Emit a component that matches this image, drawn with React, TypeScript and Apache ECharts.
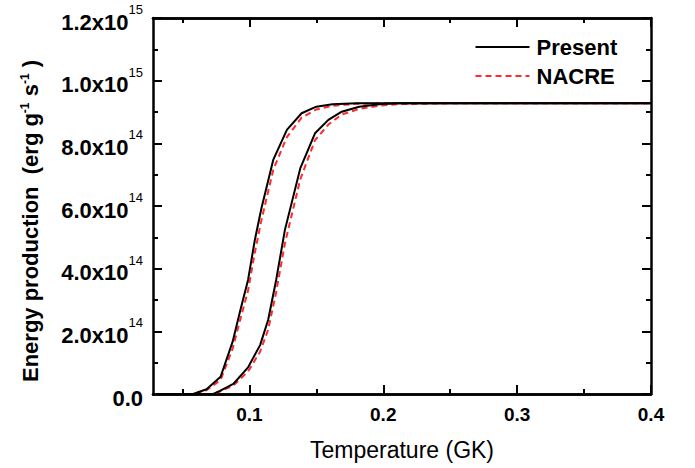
import React, { useEffect, useRef } from "react";
import * as echarts from "echarts";

const xMin = 0.028;
const xMax = 0.4;
const yMax = 1.2e15;
const xMajorTicks = [0.1, 0.2, 0.3, 0.4];
const xMinorTicks = [0.05, 0.15, 0.25, 0.35];
const xLabels = ["0.1", "0.2", "0.3", "0.4"];
const legendNames = ["Present", "NACRE"];

// Present (left curve)
const presentAT = [0.03, 0.058, 0.068, 0.0785, 0.0875, 0.093, 0.099, 0.104, 0.109, 0.1178, 0.128, 0.139, 0.15, 0.162, 0.18, 0.2, 0.25, 0.3, 0.35, 0.4];
const presentAV = [0, 0, 0.15e14, 0.55e14, 1.67e14, 2.63e14, 3.64e14, 4.9e14, 5.93e14, 7.47e14, 8.43e14, 8.96e14, 9.17e14, 9.25e14, 9.28e14, 9.28e14, 9.28e14, 9.28e14, 9.28e14, 9.28e14];
// Present (right curve)
const presentBT = [0.03, 0.073, 0.078, 0.088, 0.099, 0.108, 0.114, 0.12, 0.1265, 0.138, 0.149, 0.159, 0.169, 0.182, 0.197, 0.21, 0.25, 0.3, 0.35, 0.4];
const presentBV = [0, 0, 0.1e14, 0.32e14, 0.85e14, 1.56e14, 2.36e14, 3.64e14, 5.23e14, 7.2e14, 8.32e14, 8.75e14, 9.01e14, 9.17e14, 9.25e14, 9.28e14, 9.28e14, 9.28e14, 9.28e14, 9.28e14];
// NACRE (left curve)
const nacreAT = [0.03, 0.058, 0.068, 0.0785, 0.0875, 0.093, 0.099, 0.104, 0.109, 0.1178, 0.128, 0.139, 0.15, 0.162, 0.18, 0.2, 0.25, 0.3, 0.35, 0.4];
const nacreAV = [0, 0, 0.12e14, 0.45e14, 1.45e14, 2.35e14, 3.3e14, 4.5e14, 5.55e14, 7.15e14, 8.2e14, 8.82e14, 9.08e14, 9.2e14, 9.26e14, 9.28e14, 9.28e14, 9.28e14, 9.28e14, 9.28e14];
// NACRE (right curve)
const nacreBT = [0.03, 0.073, 0.078, 0.088, 0.099, 0.108, 0.114, 0.12, 0.1265, 0.138, 0.149, 0.159, 0.169, 0.182, 0.197, 0.21, 0.25, 0.3, 0.35, 0.4];
const nacreBV = [0, 0, 0.08e14, 0.27e14, 0.72e14, 1.35e14, 2.05e14, 3.25e14, 4.8e14, 6.85e14, 8.1e14, 8.6e14, 8.92e14, 9.1e14, 9.2e14, 9.25e14, 9.28e14, 9.28e14, 9.28e14, 9.28e14];

const zip = (t: number[], v: number[]) => t.map((x, i) => [x, v[i]]);

const FONT = "Liberation Sans, Arial, sans-serif";
const RED = "#ff2a2a";

function yFmt(v: number): string {
  if (v === 0) return "{b|0.0}";
  const e = Math.floor(Math.log10(v) + 1e-9);
  const m = (v / Math.pow(10, e)).toFixed(1);
  return `{b|${m}x10}{s|${e}}`;
}

export default function App() {
  const ref = useRef<HTMLDivElement>(null);
  useEffect(() => {
    if (!ref.current) return;
    const chart = echarts.init(ref.current, null, { renderer: "svg" });
    const axisLine = { show: true, onZero: false, lineStyle: { color: "#000", width: 2.5 } };
    const baseX = {
      type: "value" as const,
      min: xMin,
      max: xMax,
      splitLine: { show: false },
      axisLine,
    };
    const legendGraphic = (i: number, dashed: boolean, color: string) => ({
      type: "group",
      left: 473,
      top: 36 + i * 29,
      children: [
        {
          type: "line",
          shape: { x1: 0, y1: 11, x2: 54, y2: 11 },
          style: { stroke: color, lineWidth: 2, lineDash: dashed ? [6, 4] : null },
        },
        {
          type: "text",
          x: 61,
          y: 11,
          style: {
            text: legendNames[i],
            fill: "#000",
            font: `bold 22px ${FONT}`,
            textVerticalAlign: "middle",
            verticalAlign: "middle",
          },
        },
      ],
    });
    chart.setOption({
      animation: false,
      backgroundColor: "#fff",
      grid: { left: 153, right: 44, top: 18, bottom: 74, containLabel: false },
      graphic: [legendGraphic(0, false, "#000"), legendGraphic(1, true, RED)],
      xAxis: [
        {
          ...baseX,
          position: "bottom",
          name: "Temperature (GK)",
          nameLocation: "middle",
          nameGap: 44,
          nameTextStyle: { fontFamily: FONT, fontSize: 23, color: "#000" },
          axisTick: { show: true, inside: true, length: 9, lineStyle: { color: "#000", width: 2 }, customValues: xMajorTicks },
          axisLabel: {
            show: true,
            margin: 11,
            fontFamily: FONT,
            fontWeight: "bold",
            fontSize: 19,
            color: "#000",
            customValues: xMajorTicks,
            formatter: (v: number) => xLabels[xMajorTicks.findIndex((t) => Math.abs(t - v) < 1e-6)] ?? "",
          },
        },
        {
          ...baseX,
          position: "bottom",
          axisTick: { show: true, inside: true, length: 5, lineStyle: { color: "#000", width: 2 }, customValues: xMinorTicks },
          axisLabel: { show: false },
        },
        {
          ...baseX,
          position: "top",
          axisTick: { show: true, inside: true, length: 9, lineStyle: { color: "#000", width: 2 }, customValues: xMajorTicks },
          axisLabel: { show: false },
        },
        {
          ...baseX,
          position: "top",
          axisTick: { show: true, inside: true, length: 5, lineStyle: { color: "#000", width: 2 }, customValues: xMinorTicks },
          axisLabel: { show: false },
        },
      ],
      yAxis: [
        {
          type: "value",
          position: "left",
          min: 0,
          max: yMax,
          interval: 2e14,
          splitLine: { show: false },
          axisLine,
          axisTick: { show: true, inside: true, length: 9, lineStyle: { color: "#000", width: 2 } },
          minorTick: { show: true, splitNumber: 2, length: 5, lineStyle: { color: "#000", width: 2 } },
          axisLabel: {
            margin: 10,
            formatter: yFmt,
            rich: {
              b: { fontFamily: FONT, fontWeight: "bold", fontSize: 22, color: "#000", lineHeight: 30, verticalAlign: "bottom" },
              s: { fontFamily: FONT, fontSize: 13, color: "#000", lineHeight: 14, verticalAlign: "top" },
            },
          },
          name: "Energy production  (erg g{s|-1} s{s|-1} )",
          nameLocation: "middle",
          nameGap: 112,
          nameRotate: 90,
          nameTextStyle: {
            fontFamily: FONT,
            fontWeight: "bold",
            fontSize: 22,
            color: "#000",
            padding: [0, 30, 0, 0],
            rich: {
              s: { fontFamily: FONT, fontWeight: "bold", fontSize: 12, color: "#000", verticalAlign: "top", lineHeight: 12 },
            },
          },
        },
        {
          type: "value",
          position: "right",
          min: 0,
          max: yMax,
          interval: 2e14,
          splitLine: { show: false },
          axisLine,
          axisTick: { show: true, inside: true, length: 9, lineStyle: { color: "#000", width: 2 } },
          minorTick: { show: true, splitNumber: 2, length: 5, lineStyle: { color: "#000", width: 2 } },
          axisLabel: { show: false },
        },
      ],
      series: [
        {
          name: "NACRE",
          type: "line",
          data: zip(nacreAT, nacreAV),
          showSymbol: false,
          symbol: "none",
          lineStyle: { color: RED, width: 2, type: [6, 4] },
          itemStyle: { color: RED },
          z: 2,
        },
        {
          name: "NACRE",
          type: "line",
          data: zip(nacreBT, nacreBV),
          showSymbol: false,
          symbol: "none",
          lineStyle: { color: RED, width: 2, type: [6, 4] },
          itemStyle: { color: RED },
          z: 2,
        },
        {
          name: "Present",
          type: "line",
          data: zip(presentAT, presentAV),
          showSymbol: false,
          symbol: "none",
          lineStyle: { color: "#000", width: 2 },
          itemStyle: { color: "#000" },
          z: 3,
        },
        {
          name: "Present",
          type: "line",
          data: zip(presentBT, presentBV),
          showSymbol: false,
          symbol: "none",
          lineStyle: { color: "#000", width: 2 },
          itemStyle: { color: "#000" },
          z: 3,
        },
      ],
    });
    return () => chart.dispose();
  }, []);
  return <div ref={ref} style={{ width: 695, height: 468, position: "absolute", left: 0, top: 0 }} />;
}
